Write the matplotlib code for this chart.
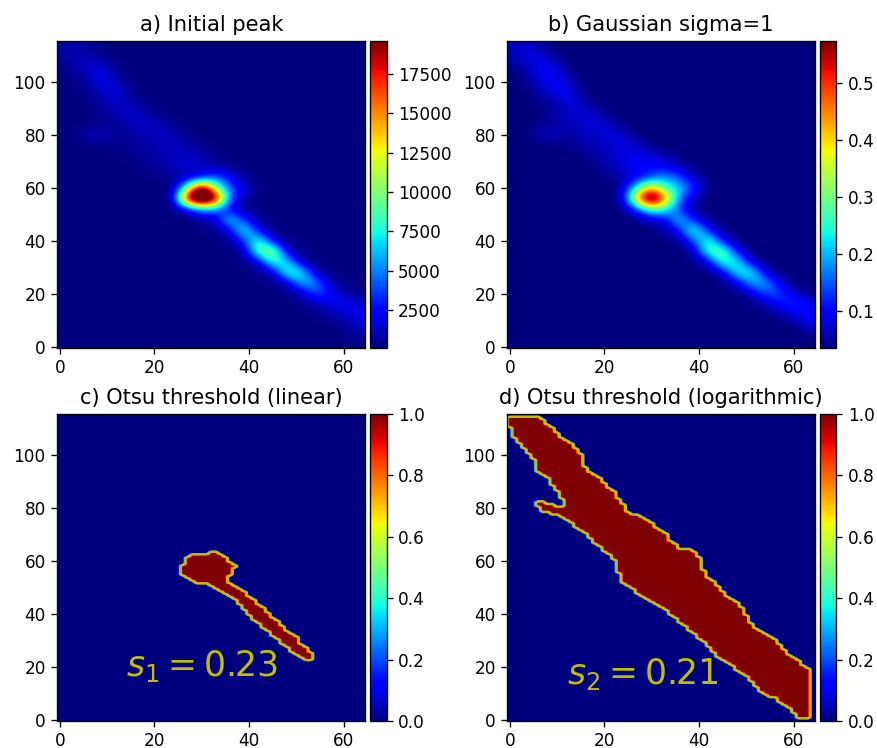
import matplotlib
matplotlib.use('Agg')
import matplotlib.pyplot as plt
import numpy as np
from matplotlib.path import Path

plt.rcParams['font.size'] = 12.2
plt.rcParams['axes.linewidth'] = 0.96
plt.rcParams['xtick.major.size'] = 4.2
plt.rcParams['ytick.major.size'] = 4.2
plt.rcParams['xtick.major.width'] = 0.96
plt.rcParams['ytick.major.width'] = 0.96
plt.rcParams['xtick.major.pad'] = 4.0
plt.rcParams['ytick.major.pad'] = 4.2

# coarse reading of the two peak images: rows run from y=116 down to y=0 in
# steps of 4, each row is (x of first value, values at steps of 3 in x)
grid_y = list(range(116, -1, -4))
grid_x = list(range(0, 67, 3))

# panel a, in hundreds of counts
peak_rows = [
    (0, [5, 6, 3]),
    (0, [5, 10, 7, 2]),
    (0, [3, 9, 13, 6, 2]),
    (0, [1, 4, 13, 22, 5, 1]),
    (0, [1, 2, 6, 22, 9, 2]),
    (3, [1, 3, 11, 20, 5, 1]),
    (6, [2, 6, 14, 8, 2]),
    (6, [1, 3, 8, 16, 9, 3, 1]),
    (6, [1, 3, 5, 9, 15, 10, 3, 1]),
    (6, [10, 12, 4, 5, 8, 14, 9, 4, 1]),
    (6, [1, 2, 4, 5, 7, 10, 13, 8, 3, 1]),
    (12, [1, 3, 6, 8, 12, 14, 8, 3, 1]),
    (15, [1, 3, 6, 10, 15, 14, 6, 2]),
    (21, [2, 5, 8, 12, 48, 20, 5, 1]),
    (21, [1, 1, 90, 235, 100, 42, 18, 1]),
    (24, [1, 215, 290, 220, 40, 6, 1]),
    (24, [1, 10, 50, 45, 16, 4, 1]),
    (27, [1, 4, 12, 80, 30, 4, 1]),
    (30, [1, 3, 15, 90, 18, 3, 1]),
    (33, [1, 4, 30, 95, 15, 3, 1]),
    (36, [1, 6, 95, 120, 12, 3, 1]),
    (39, [2, 8, 85, 75, 7, 2]),
    (42, [3, 6, 85, 85, 8, 3, 1]),
    (45, [2, 5, 60, 60, 10, 3]),
    (48, [2, 6, 40, 30, 8, 3, 1]),
    (51, [2, 6, 18, 22, 20, 9]),
    (54, [2, 5, 12, 20, 20]),
    (57, [1, 3, 16, 18]),
    (60, [1, 4, 6]),
    (63, [1, 1]),
]

# panel b, in hundredths
smooth_rows = [
    (0, [6, 6, 5]),
    (0, [6, 8, 7, 4]),
    (0, [5, 7, 9, 7, 4]),
    (3, [5, 9, 10, 5]),
    (3, [4, 7, 10, 8, 4]),
    (6, [5, 8, 10, 5]),
    (6, [4, 5, 8, 7, 4]),
    (9, [5, 6, 8, 7, 4]),
    (6, [4, 5, 6, 7, 8, 7, 4]),
    (6, [6, 7, 5, 6, 7, 8, 7, 4]),
    (9, [4, 4, 5, 6, 7, 9, 7, 4]),
    (15, [4, 5, 6, 8, 9, 8, 6, 4]),
    (18, [4, 6, 8, 10, 11, 9, 6, 4]),
    (21, [4, 6, 8, 13, 19, 14, 6, 4]),
    (24, [5, 26, 44, 26, 22, 12, 4]),
    (24, [7, 46, 74, 46, 15, 6, 3]),
    (24, [4, 12, 28, 24, 12, 5]),
    (27, [4, 6, 9, 24, 9, 5]),
    (30, [4, 5, 10, 30, 10, 5]),
    (33, [4, 5, 14, 29, 9, 5]),
    (39, [6, 27, 32, 9, 4]),
    (39, [4, 7, 27, 26, 7, 4]),
    (42, [4, 6, 24, 27, 7, 4]),
    (45, [4, 6, 19, 21, 8, 4]),
    (48, [4, 6, 14, 15, 8, 4]),
    (51, [4, 5, 10, 13, 11, 6]),
    (54, [4, 5, 7, 11, 12]),
    (60, [4, 7, 9]),
    (63, [4, 4]),
    (63, [3, 3]),
]

# outlines of the thresholded regions
mask1_x = [25.7, 26.4, 27.8, 30.3, 31.7, 33.5, 34.9, 36.3, 37.4, 36.3, 36.3, 35.2, 36.3, 38.8, 40.2, 43.0, 44.8, 46.6,
           50.1, 51.5, 53.5, 53.3, 51.5, 49.4, 47.3, 45.2, 43.0, 40.9, 38.8, 36.7, 34.5, 32.1, 28.9, 26.4, 25.7]
mask1_y = [57.5, 60.6, 62.1, 62.5, 63.4, 63.1, 61.2, 59.3, 58.1, 57.5, 54.9, 53.7, 51.1, 48.6, 46.1, 42.3, 39.1, 36.0,
           30.9, 27.8, 24.6, 22.7, 23.1, 25.3, 28.4, 31.6, 34.7, 37.9, 42.3, 45.5, 48.0, 50.9, 51.8, 53.4, 55.6]
mask2_x = [-0.1, 3.5, 6.2, 8.5, 10.6, 13.1, 15.2, 16.3, 19.1, 22.5, 25.0, 29.7, 32.9, 34.3, 36.8, 38.9, 40.7, 41.2,
           43.2, 46.0, 48.5, 52.0, 56.3, 58.7, 63.6, 63.6, 60.9, 58.7, 55.9, 53.1, 50.6, 47.4, 43.9, 40.3, 37.0,
           33.6, 30.4, 27.6, 23.6, 22.9, 21.8, 18.4, 15.6, 11.7, 9.2, 6.4, 5.3, 6.4, 7.8, 10.8, 11.9, 10.8, 9.1,
           8.5, 6.0, 5.3, 2.7, 0.6, -0.1]
mask2_y = [114.6, 114.6, 114.3, 111.1, 107.3, 104.2, 100.4, 94.1, 90.9, 85.2, 78.9, 74.5, 70.7, 66.9, 64.1, 64.1, 60.6, 54.3,
           52.4, 46.1, 43.6, 34.1, 29.7, 25.3, 18.3, 0.6, 0.6, 4.7, 8.2, 10.5, 15.2, 19.6, 24.0, 30.3, 35.4,
           40.4, 44.2, 47.3, 51.8, 56.2, 61.2, 66.3, 70.7, 75.8, 77.9, 79.2, 81.4, 83.6, 82.1, 80.2, 81.7, 84.0, 88.4,
           90.9, 93.4, 97.9, 103.5, 107.3, 110.5]


def rows_to_array(rows, base):
    arr = np.full((len(grid_y), len(grid_x)), float(base))
    for i, (start, vals) in enumerate(rows):
        j = grid_x.index(start)
        arr[i, j:j + len(vals)] = vals
    return arr


mask_px = np.arange(-1, 66)
mask_py = np.arange(-1, 117)


def outline_to_mask(xs, ys):
    # one extra pixel on each side so the outline also shows along the border
    px, py = np.meshgrid(mask_px, mask_py)
    inside = Path(np.column_stack([xs, ys])).contains_points(np.column_stack([px.ravel(), py.ravel()]))
    return inside.reshape(px.shape).astype(float)


W, H = 878.0, 748.0
fig = plt.figure(figsize=(8.78, 7.48), dpi=100)


def panel(left, top, title):
    ax = fig.add_axes([left / W, 1 - (top + 307) / H, 307.5 / W, 307 / H])
    cax = fig.add_axes([(left + 312.5) / W, 1 - (top + 307) / H, 16.5 / W, 307 / H])
    ax.set_title(title, fontsize=15.1, pad=7.2)
    return ax, cax


def finish(ax, cax, im, ticks):
    ax.set_xlim(-0.5, 64.5)
    ax.set_ylim(-0.5, 115.5)
    ax.set_xticks([0, 20, 40, 60])
    ax.set_yticks([0, 20, 40, 60, 80, 100])
    ax.set_aspect('auto')
    cb = fig.colorbar(im, cax=cax)
    cb.set_ticks(ticks)


def mask_panel(ax, cax, mask, label, tx, ty):
    im = ax.imshow(mask, cmap='jet', vmin=0, vmax=1, origin='lower', extent=[-1.5, 65.5, -1.5, 116.5],
                   interpolation='bilinear', interpolation_stage='data')
    ax.contour(mask_px, mask_py, mask, levels=[0.5], colors='y', linewidths=1.8)
    finish(ax, cax, im, [0, 0.2, 0.4, 0.6, 0.8, 1.0])
    ax.text(tx, ty, label, color='y', fontsize=25)


coarse_extent = [-1.5, 67.5, -2, 118]

ax, cax = panel(57.5, 41, 'a) Initial peak')
im = ax.imshow(rows_to_array(peak_rows, 1) * 100, cmap='jet', vmin=70, vmax=19600, extent=coarse_extent,
               interpolation='bicubic', interpolation_stage='data')
finish(ax, cax, im, list(range(2500, 17501, 2500)))

ax, cax = panel(507.5, 41, 'b) Gaussian sigma=1')
im = ax.imshow(rows_to_array(smooth_rows, 3) / 100, cmap='jet', vmin=0.035, vmax=0.574, extent=coarse_extent,
               interpolation='bicubic', interpolation_stage='data')
finish(ax, cax, im, [0.1, 0.2, 0.3, 0.4, 0.5])

ax, cax = panel(57.5, 414, 'c) Otsu threshold (linear)')
mask_panel(ax, cax, outline_to_mask(mask1_x, mask1_y), '$s_1 = 0.23$', 14, 16.5)

ax, cax = panel(507.5, 414, 'd) Otsu threshold (logarithmic)')
mask_panel(ax, cax, outline_to_mask(mask2_x, mask2_y), '$s_2 = 0.21$', 12, 13.5)

fig.savefig('out.png', dpi=100)
